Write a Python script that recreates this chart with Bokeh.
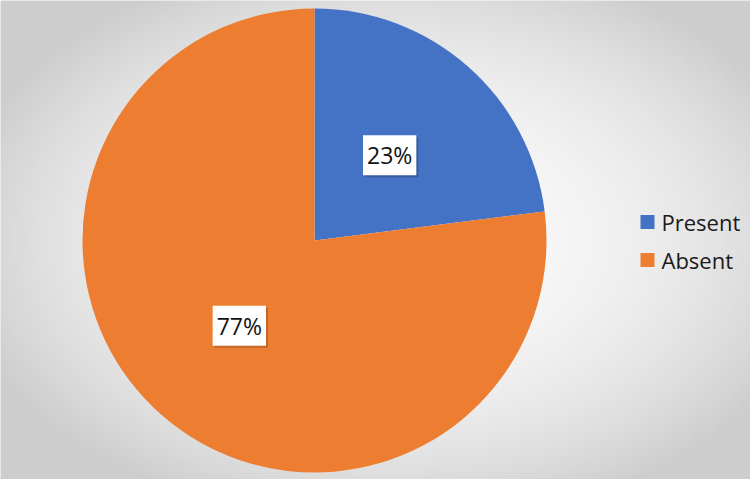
import numpy as np
from bokeh.plotting import figure
from bokeh.models import Range1d, ColumnDataSource
from bokeh.core.properties import value
from bokeh.embed import file_html
from bokeh.resources import INLINE

categories = ["Present", "Absent"]
percents = [23, 77]
colors = ["#4472C4", "#ED7D31"]

W, H = 750, 479
p = figure(width=W, height=H, output_backend="svg", toolbar_location=None,
           x_range=Range1d(0, W), y_range=Range1d(0, H), min_border=0)
p.axis.visible = False
p.grid.visible = False
p.outline_line_color = None
p.background_fill_color = "#e6e6e6"
p.border_fill_color = "#e6e6e6"

# radial gradient background (style only)
ny, nx = 120, 190
gx = np.linspace(0, W, nx)
gy = np.linspace(0, H, ny)
X, Y = np.meshgrid(gx, gy)
cx, cy = 390, 240
d = np.sqrt(((X - cx) / 390.0) ** 2 + ((Y - cy) / 255.0) ** 2)
v = np.clip(251 - 34 * np.clip(d, 0, 1.35) ** 2.2, 205, 252).astype(np.uint32)
img = np.empty((ny, nx), dtype=np.uint32)
view = img.view(dtype=np.uint8).reshape((ny, nx, 4))
view[:, :, 0] = v
view[:, :, 1] = v
view[:, :, 2] = v
view[:, :, 3] = 255
p.image_rgba(image=[img], x=0, y=0, dw=W, dh=H)

# pie
pcx, pcy, R = 314, 239, 232
frac = np.array(percents, dtype=float) / sum(percents)
ends = np.cumsum(frac)
starts = ends - frac
start_ang = np.pi / 2 - starts * 2 * np.pi
end_ang = np.pi / 2 - ends * 2 * np.pi
src = ColumnDataSource(dict(start=start_ang, end=end_ang, color=colors,
                            cat=categories))
p.wedge(x=pcx, y=pcy, radius=R, start_angle="start", end_angle="end",
        direction="clock", fill_color="color", line_color=None, source=src)

# data labels
mid = (start_ang + end_ang) / 2
lr = 0.49 * R
lab = ColumnDataSource(dict(x=pcx + lr * np.cos(mid), y=pcy + lr * np.sin(mid),
                            t=[f"{q}%" for q in percents]))
p.text(x="x", y="y", text="t", source=lab, x_offset=2, y_offset=2,
       text_align="center", text_baseline="middle",
       text_font=value("Open Sans"), text_font_size="23px", text_alpha=0,
       background_fill_color="#000000", background_fill_alpha=0.18, padding=4)
p.text(x="x", y="y", text="t", source=lab,
       text_align="center", text_baseline="middle", text_color="#111111",
       text_font=value("Open Sans"), text_font_size="23px",
       background_fill_color="white", padding=4)

# legend
lx, ly0, dy = 647, 257.5, 38
leg = ColumnDataSource(dict(x=[lx] * len(categories),
                            y=[ly0 - i * dy for i in range(len(categories))],
                            color=colors, cat=categories))
p.rect(x="x", y="y", width=14, height=14, fill_color="color", line_color=None,
       source=leg)
p.text(x="x", y="y", text="cat", source=leg, x_offset=14, y_offset=0,
       text_align="left", text_baseline="middle", text_color="#1a1a1a",
       text_font=value("Open Sans"), text_font_size="22px")

open("out.html", "w").write(file_html(p, INLINE))
